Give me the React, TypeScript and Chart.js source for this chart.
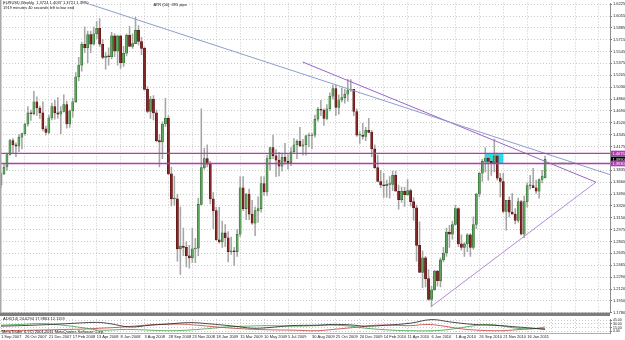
import React, { useEffect, useRef } from "react";
import { Chart, registerables } from "chart.js";

Chart.register(...registerables);

// ---------------- data ----------------
const SYMBOL_TITLE = "EURUSD,Weekly  1.3724 1.4037 1.3721 1.3990";
const TIMER_TEXT = "1919 minutes 40 seconds left to bar end";
const ATR_TEXT = "ATR (50): 395 pips";
const TREND_NOTE = "1.3737.46";
const INDICATOR_TEXT = "ADX(14) 24.6294 17.9863 12.1159";
const COPYRIGHT_TEXT = "MetaTrader 4, (C) 2001-2011 MetaQuotes Software Corp.";

const DATE_LABELS = [
  "1 Sep 2007", "26 Oct 2007", "21 Dec 2007", "17 Feb 2008", "13 Apr 2008", "8 Jun 2008",
  "3 Aug 2008", "28 Sep 2008", "23 Nov 2008", "18 Jan 2009", "15 Mar 2009", "10 May 2009",
  "5 Jul 2009", "30 Aug 2009", "25 Oct 2009", "20 Dec 2009", "14 Feb 2010", "11 Apr 2010",
  "6 Jun 2010", "1 Aug 2010", "26 Sep 2010", "21 Nov 2010", "16 Jan 2011",
];
const BARS_PER_LABEL = 8;

const OPEN = [
  1.3625, 1.3780, 1.3880, 1.4060, 1.4260, 1.4200, 1.4180, 1.4310, 1.4360, 1.4500,
  1.4660, 1.4650, 1.4820, 1.4730, 1.4660, 1.4430, 1.4380, 1.4590, 1.4750, 1.4660,
  1.4640, 1.4680, 1.4780, 1.4500, 1.4690, 1.4820, 1.5180, 1.5350, 1.5650, 1.5600,
  1.5790, 1.5650, 1.5800, 1.5880, 1.5650, 1.5460, 1.5480, 1.5470, 1.5770, 1.5550,
  1.5770, 1.5380, 1.5520, 1.5780, 1.5620, 1.5660, 1.5850, 1.5690, 1.5590, 1.5000,
  1.4680, 1.4860, 1.4660, 1.4260, 1.4240, 1.4500, 1.4580, 1.3780, 1.3420, 1.3420,
  1.2700, 1.2740, 1.2720, 1.2600, 1.2570, 1.2700, 1.2710, 1.3340, 1.3870, 1.4000,
  1.3920, 1.3420, 1.3250, 1.2830, 1.2800, 1.2930, 1.2860, 1.2660, 1.2670, 1.2660,
  1.2910, 1.3580, 1.3280, 1.3490, 1.3200, 1.3070, 1.3250, 1.3280, 1.3640, 1.3520,
  1.4000, 1.4160, 1.4040, 1.3980, 1.3890, 1.4020, 1.3960, 1.3940, 1.4100, 1.4200,
  1.4250, 1.4180, 1.4200, 1.4330, 1.4330, 1.4340, 1.4570, 1.4710, 1.4700, 1.4580,
  1.4720, 1.4900, 1.5010, 1.4740, 1.4850, 1.4880, 1.4930, 1.4990, 1.5000, 1.4680,
  1.4340, 1.4340, 1.4320, 1.4410, 1.4380, 1.4140, 1.3870, 1.3670, 1.3620, 1.3610,
  1.3630, 1.3630, 1.3760, 1.3530, 1.3410, 1.3530, 1.3480, 1.3540, 1.3380, 1.3290,
  1.2750, 1.2360, 1.2570, 1.2270, 1.1970, 1.2110, 1.2380, 1.2240, 1.2540, 1.2640,
  1.2940, 1.2910, 1.3050, 1.3280, 1.2770, 1.2720, 1.2770, 1.2900, 1.2720, 1.3050,
  1.3490, 1.3790, 1.3960, 1.4010, 1.3960, 1.3940, 1.4040, 1.3720, 1.3670, 1.3240,
  1.3400, 1.3230, 1.3200, 1.3110, 1.3380, 1.2910, 1.3380, 1.3610, 1.3610, 1.3580,
  1.3530, 1.3700, 1.3724,
];
const HIGH = [
  1.3800, 1.3920, 1.4080, 1.4280, 1.4290, 1.4230, 1.4350, 1.4370, 1.4510, 1.4750,
  1.4700, 1.4970, 1.4890, 1.4760, 1.4820, 1.4470, 1.4630, 1.4800, 1.4840, 1.4880,
  1.4750, 1.4920, 1.4830, 1.4700, 1.4870, 1.5240, 1.5460, 1.5680, 1.5900, 1.5840,
  1.5840, 1.5900, 1.5980, 1.6020, 1.5720, 1.5530, 1.5600, 1.5820, 1.5800, 1.5780,
  1.5780, 1.5620, 1.5800, 1.5910, 1.5800, 1.6038, 1.5920, 1.5750, 1.5610, 1.5040,
  1.4900, 1.4910, 1.4700, 1.4350, 1.4530, 1.4870, 1.4620, 1.3880, 1.3750, 1.3490,
  1.3300, 1.3000, 1.2800, 1.2750, 1.3000, 1.2850, 1.3430, 1.4719, 1.4150, 1.4200,
  1.3960, 1.3510, 1.3300, 1.3300, 1.3100, 1.3050, 1.2950, 1.2870, 1.2720, 1.2980,
  1.3740, 1.3740, 1.3500, 1.3560, 1.3400, 1.3300, 1.3450, 1.3740, 1.3740, 1.4050,
  1.4160, 1.4340, 1.4130, 1.4090, 1.4080, 1.4220, 1.4060, 1.4160, 1.4290, 1.4270,
  1.4450, 1.4280, 1.4340, 1.4370, 1.4370, 1.4630, 1.4740, 1.4840, 1.4720, 1.4780,
  1.4950, 1.5060, 1.5060, 1.4920, 1.5020, 1.5000, 1.5145, 1.5140, 1.5000, 1.4720,
  1.4390, 1.4510, 1.4450, 1.4580, 1.4410, 1.4200, 1.4050, 1.3830, 1.3790, 1.3690,
  1.3740, 1.3820, 1.3820, 1.3620, 1.3590, 1.3590, 1.3700, 1.3560, 1.3440, 1.3330,
  1.3090, 1.2670, 1.2590, 1.2400, 1.2160, 1.2390, 1.2390, 1.2570, 1.2720, 1.3000,
  1.3040, 1.3100, 1.3330, 1.3290, 1.2900, 1.2790, 1.2920, 1.2920, 1.3160, 1.3500,
  1.3800, 1.3990, 1.4160, 1.4030, 1.4000, 1.4283, 1.4080, 1.3790, 1.3790, 1.3400,
  1.3450, 1.3500, 1.3280, 1.3430, 1.3400, 1.3460, 1.3650, 1.3760, 1.3860, 1.3690,
  1.3710, 1.3830, 1.4037,
];
const LOW = [
  1.3580, 1.3770, 1.3830, 1.4050, 1.4080, 1.4030, 1.4100, 1.4140, 1.4340, 1.4470,
  1.4550, 1.4630, 1.4620, 1.4580, 1.4400, 1.4340, 1.4360, 1.4560, 1.4570, 1.4580,
  1.4360, 1.4670, 1.4440, 1.4450, 1.4600, 1.4810, 1.5120, 1.5260, 1.5530, 1.5380,
  1.5530, 1.5640, 1.5730, 1.5620, 1.5440, 1.5290, 1.5350, 1.5440, 1.5470, 1.5350,
  1.5300, 1.5330, 1.5480, 1.5620, 1.5590, 1.5660, 1.5640, 1.5500, 1.4990, 1.4660,
  1.4580, 1.4560, 1.4240, 1.3880, 1.4000, 1.4460, 1.3770, 1.3320, 1.3330, 1.2520,
  1.2330, 1.2600, 1.2440, 1.2420, 1.2500, 1.2500, 1.2600, 1.3330, 1.3850, 1.3880,
  1.3350, 1.2990, 1.2820, 1.2780, 1.2720, 1.2730, 1.2510, 1.2620, 1.2456, 1.2590,
  1.2880, 1.3250, 1.3120, 1.3120, 1.3050, 1.2890, 1.3080, 1.3230, 1.3470, 1.3470,
  1.3830, 1.4000, 1.3740, 1.3750, 1.3820, 1.3920, 1.3850, 1.3900, 1.4080, 1.4000,
  1.4180, 1.4050, 1.4050, 1.4170, 1.4140, 1.4310, 1.4540, 1.4620, 1.4480, 1.4560,
  1.4690, 1.4860, 1.4620, 1.4640, 1.4820, 1.4800, 1.4830, 1.4970, 1.4620, 1.4320,
  1.4220, 1.4280, 1.4260, 1.4370, 1.4030, 1.3860, 1.3670, 1.3580, 1.3440, 1.3440,
  1.3430, 1.3540, 1.3530, 1.3270, 1.3370, 1.3310, 1.3470, 1.3320, 1.3110, 1.2520,
  1.2360, 1.2140, 1.2150, 1.1960, 1.1876, 1.2100, 1.2160, 1.2150, 1.2510, 1.2590,
  1.2720, 1.2840, 1.3040, 1.2730, 1.2680, 1.2590, 1.2660, 1.2590, 1.2690, 1.2990,
  1.3450, 1.3670, 1.3810, 1.3690, 1.3760, 1.3810, 1.3690, 1.3450, 1.3220, 1.2970,
  1.3160, 1.3200, 1.3060, 1.3080, 1.2900, 1.2860, 1.3300, 1.3560, 1.3580, 1.3500,
  1.3430, 1.3650, 1.3721,
];
const CLOSE = [
  1.3780, 1.3880, 1.4060, 1.4260, 1.4200, 1.4180, 1.4310, 1.4360, 1.4500, 1.4660,
  1.4650, 1.4820, 1.4730, 1.4660, 1.4430, 1.4380, 1.4590, 1.4750, 1.4660, 1.4640,
  1.4680, 1.4780, 1.4500, 1.4690, 1.4820, 1.5180, 1.5350, 1.5650, 1.5600, 1.5790,
  1.5650, 1.5800, 1.5880, 1.5650, 1.5460, 1.5480, 1.5470, 1.5770, 1.5550, 1.5770,
  1.5380, 1.5520, 1.5780, 1.5620, 1.5660, 1.5850, 1.5690, 1.5590, 1.5000, 1.4680,
  1.4860, 1.4660, 1.4260, 1.4240, 1.4500, 1.4580, 1.3780, 1.3420, 1.3420, 1.2700,
  1.2740, 1.2720, 1.2600, 1.2570, 1.2700, 1.2710, 1.3340, 1.3870, 1.4000, 1.3920,
  1.3420, 1.3250, 1.2830, 1.2800, 1.2930, 1.2860, 1.2660, 1.2670, 1.2660, 1.2910,
  1.3580, 1.3280, 1.3490, 1.3200, 1.3070, 1.3250, 1.3280, 1.3640, 1.3520, 1.4000,
  1.4160, 1.4040, 1.3980, 1.3890, 1.4020, 1.3960, 1.3940, 1.4100, 1.4200, 1.4250,
  1.4180, 1.4200, 1.4330, 1.4330, 1.4340, 1.4570, 1.4710, 1.4700, 1.4580, 1.4720,
  1.4900, 1.5010, 1.4740, 1.4850, 1.4880, 1.4930, 1.4990, 1.5000, 1.4680, 1.4340,
  1.4340, 1.4320, 1.4410, 1.4380, 1.4140, 1.3870, 1.3670, 1.3620, 1.3610, 1.3630,
  1.3630, 1.3760, 1.3530, 1.3410, 1.3530, 1.3480, 1.3540, 1.3380, 1.3290, 1.2750,
  1.2360, 1.2570, 1.2270, 1.1970, 1.2110, 1.2380, 1.2240, 1.2540, 1.2640, 1.2940,
  1.2910, 1.3050, 1.3280, 1.2770, 1.2720, 1.2770, 1.2900, 1.2720, 1.3050, 1.3490,
  1.3790, 1.3960, 1.4010, 1.3960, 1.3940, 1.4040, 1.3720, 1.3670, 1.3240, 1.3400,
  1.3230, 1.3200, 1.3110, 1.3380, 1.2910, 1.3380, 1.3610, 1.3610, 1.3580, 1.3530,
  1.3700, 1.3750, 1.3990,
];

const PRICE_TICKS = [
  1.6225, 1.6055, 1.5885, 1.5715, 1.5545, 1.5375, 1.5205, 1.5030, 1.4860, 1.4690,
  1.4520, 1.4345, 1.4175, 1.3835, 1.3660, 1.3490, 1.3320, 1.3150, 1.2975, 1.2805,
  1.2635, 1.2465, 1.2290, 1.2120, 1.1950, 1.1780,
];
const PRICE_MIN = 1.1780;
const PRICE_MAX = 1.6239;

const LEVELS = [1.4075, 1.3930];
const LAST_PRICE = 1.3990;

const BLUE_TREND_BARS = [28, 206];
const BLUE_TREND_PRICES = [1.6251, 1.3737];
const UPPER_TREND_BARS = [100.9, 199];
const UPPER_TREND_PRICES = [1.5394, 1.3661];
const LOWER_TREND_BARS = [143.7, 199];
const LOWER_TREND_PRICES = [1.1861, 1.3661];

const RECT_BARS = [161.9, 168];
const RECT_PRICES = [1.3930, 1.4075];

// indicator panel
const ADX_AT = [0, 11, 22, 32, 36.5, 43, 50, 55.5, 63, 69, 78, 84, 89, 97, 105.5, 111, 117, 122, 129, 137, 144, 150, 158, 167, 172.5, 178, 182];
const ADX_VAL = [21, 24.9, 30.9, 36, 30.9, 18, 24.9, 29.1, 35.1, 30.9, 21, 12.9, 15, 23.1, 24.9, 27.9, 26, 21, 24.9, 33, 47, 38.1, 27.9, 23.1, 18, 12.9, 8.1];
const PDI_AT = [0, 6.5, 14, 22, 28.5, 33, 42, 50, 55.5, 62, 69, 75.5, 82, 89, 98, 105.5, 111, 117, 122, 131, 137, 144.5, 150, 155.5, 162.5, 167, 172.5, 178, 182];
const PDI_VAL = [24.9, 27.9, 30.9, 23.1, 12.9, 5.1, 8.1, 5.1, 3, 5.1, 11.1, 18, 21, 23.1, 21, 23.1, 24.9, 21, 12.9, 5.1, 3, 3, 8.1, 18, 27.9, 23.1, 12.9, 11.1, 18];
const MDI_AT = [0, 11, 22, 28.5, 33, 38.5, 46.5, 52, 60, 65.5, 72, 80, 89, 98, 105.5, 111, 120, 125.5, 131, 137, 142.5, 147, 152.5, 158, 167, 172.5, 178, 182];
const MDI_VAL = [3, 5.1, 8.1, 9.9, 12.9, 15.9, 23.1, 27.9, 29.1, 24.9, 18, 11.1, 6.9, 5.1, 3, 8.1, 18, 24.9, 24.9, 23.1, 27.9, 23.1, 12.9, 6, 3, 6.9, 11.1, 11.1];
const PANEL_TICKS = [45, 30, 15, 0];

// ---------------- styles ----------------
const FONT = '"Liberation Sans", Arial, sans-serif';
const GRID = "#c9c9c9";
const UP_FILL = "#5ea45e";
const UP_EDGE = "#2c6a2c";
const DOWN_FILL = "#822626";
const DOWN_EDGE = "#5a1212";
const WICK = "#a6a6a6";
const MAGENTA = "#b43ab4";
const BLUE_LINE = "#8f9dcb";
const PURPLE_UP = "#9a64c8";
const PURPLE_LOW = "#b48ad6";
const CYAN = "#26dcec";
const X_MIN = -0.33;
const X_MAX = 203.7;
const AXIS_W = 15;

const dateTick = (v: number) => {
  const k = Math.round(v / BARS_PER_LABEL);
  return k * BARS_PER_LABEL === v && k >= 0 && k < DATE_LABELS.length ? DATE_LABELS[k] : "";
};

const xScale = (labels: boolean, h: number) => ({
  type: "linear",
  min: X_MIN,
  max: X_MAX,
  offset: false,
  afterFit: (s: any) => {
    s.height = h;
  },
  ticks: {
    display: labels,
    stepSize: BARS_PER_LABEL,
    includeBounds: false,
    autoSkip: false,
    maxRotation: 0,
    minRotation: 0,
    align: "start",
    padding: 1,
    color: "#222",
    font: { size: 4, family: FONT },
    callback: (v: any) => dateTick(Number(v)),
  },
  grid: { color: GRID, lineWidth: 1, drawTicks: false, offset: false },
  border: { display: false, dash: [1, 2] },
});

const line = (bars: number[], prices: number[], color: string, width: number) => ({
  type: "line",
  order: -2,
  data: bars.map((b, i) => ({ x: b, y: prices[i] })),
  borderColor: color,
  borderWidth: width,
  pointRadius: 0,
  fill: false,
  tension: 0,
});

const priceBox = (ctx: CanvasRenderingContext2D, left: number, yPix: number, bg: string, text: string) => {
  ctx.fillStyle = bg;
  ctx.fillRect(left, yPix - 2.8, 14, 5.6);
  ctx.fillStyle = "#ffffff";
  ctx.font = `4px ${FONT}`;
  ctx.textAlign = "left";
  ctx.textBaseline = "middle";
  ctx.fillText(text, left + 1.5, yPix + 0.2);
};

const mainOverlay = {
  id: "mainOverlay",
  beforeDatasetsDraw(chart: any) {
    const { ctx, scales } = chart;
    const x0 = scales.x.getPixelForValue(RECT_BARS[0]);
    const x1 = scales.x.getPixelForValue(RECT_BARS[1]);
    const y0 = scales.y.getPixelForValue(RECT_PRICES[1]);
    const y1 = scales.y.getPixelForValue(RECT_PRICES[0]);
    ctx.save();
    ctx.fillStyle = CYAN;
    ctx.fillRect(x0, y0, x1 - x0, y1 - y0);
    ctx.restore();
  },
  afterDraw(chart: any) {
    const { ctx, chartArea, scales } = chart;
    ctx.save();
    // window frame pieces
    ctx.fillStyle = "#a9a9a9";
    ctx.fillRect(0, 0, 1.5, chartArea.bottom);
    ctx.fillStyle = "#7d7d7d";
    ctx.fillRect(0, chartArea.bottom, chartArea.right, chart.height - chartArea.bottom);
    // price labels on the axis
    const left = chartArea.right + 1;
    priceBox(ctx, left, scales.y.getPixelForValue(LEVELS[0]), MAGENTA, LEVELS[0].toFixed(4));
    priceBox(ctx, left, scales.y.getPixelForValue(LAST_PRICE), "#000000", LAST_PRICE.toFixed(4));
    priceBox(ctx, left, scales.y.getPixelForValue(LEVELS[1]), MAGENTA, LEVELS[1].toFixed(4));
    // texts
    ctx.fillStyle = "#111";
    ctx.font = `4px ${FONT}`;
    ctx.textAlign = "left";
    ctx.textBaseline = "top";
    ctx.fillText(SYMBOL_TITLE, 3, 1);
    ctx.fillText(TIMER_TEXT, 3, 6);
    ctx.fillText(ATR_TEXT, scales.x.getPixelForValue(51), 3);
    ctx.fillStyle = "#8a8a8a";
    ctx.textBaseline = "middle";
    ctx.fillText(TREND_NOTE, scales.x.getPixelForValue(185), scales.y.getPixelForValue(LEVELS[1]) + 0.5);
    ctx.restore();
  },
};

const panelOverlay = {
  id: "panelOverlay",
  afterDraw(chart: any) {
    const { ctx, chartArea } = chart;
    ctx.save();
    ctx.fillStyle = "#9a9a9a";
    ctx.fillRect(0, chartArea.bottom, chartArea.right, 0.8);
    ctx.fillStyle = "#111";
    ctx.font = `4px ${FONT}`;
    ctx.textAlign = "left";
    ctx.textBaseline = "top";
    ctx.fillText(INDICATOR_TEXT, 3, 1.2);
    ctx.fillText(COPYRIGHT_TEXT, 2, 13.5);
    ctx.restore();
  },
};

export default function App() {
  const mainRef = useRef<HTMLCanvasElement>(null);
  const panelRef = useRef<HTMLCanvasElement>(null);

  useEffect(() => {
    document.body.style.margin = "0";
    Chart.defaults.font.family = FONT;

    const bars = CLOSE.map((_, i) => i);
    const isUp = (i: number) => CLOSE[i] >= OPEN[i];

    const main = new Chart(mainRef.current as HTMLCanvasElement, {
      type: "bar",
      data: {
        datasets: [
          line([X_MIN, X_MAX], [LEVELS[0], LEVELS[0]], MAGENTA, 1.3),
          line([X_MIN, X_MAX], [LEVELS[1], LEVELS[1]], MAGENTA, 1.3),
          line(BLUE_TREND_BARS, BLUE_TREND_PRICES, BLUE_LINE, 1),
          line(UPPER_TREND_BARS, UPPER_TREND_PRICES, PURPLE_UP, 1),
          line(LOWER_TREND_BARS, LOWER_TREND_PRICES, PURPLE_LOW, 1),
          {
            type: "bar",
            order: 0,
            grouped: false,
            data: bars.map((i) => ({ x: i, y: [OPEN[i], CLOSE[i]] })),
            backgroundColor: (c: any) => (isUp(c.dataIndex) ? UP_FILL : DOWN_FILL),
            borderColor: (c: any) => (isUp(c.dataIndex) ? UP_EDGE : DOWN_EDGE),
            borderWidth: 0.6,
            borderSkipped: false,
            barThickness: 2.2,
            minBarLength: 0.8,
          },
          {
            type: "bar",
            order: 1,
            grouped: false,
            data: bars.map((i) => ({ x: i, y: [LOW[i], HIGH[i]] })),
            backgroundColor: WICK,
            borderWidth: 0,
            barThickness: 0.9,
          },
        ] as any,
      },
      options: {
        animation: false,
        responsive: false,
        events: [],
        layout: { padding: 0 },
        plugins: { legend: { display: false }, tooltip: { enabled: false } },
        scales: {
          x: xScale(false, 3) as any,
          y: {
            type: "linear",
            position: "right",
            min: PRICE_MIN,
            max: PRICE_MAX,
            beginAtZero: false,
            afterFit: (s: any) => {
              s.width = AXIS_W;
            },
            afterBuildTicks: (s: any) => {
              s.ticks = PRICE_TICKS.map((v) => ({ value: v }));
            },
            ticks: {
              autoSkip: false,
              padding: 1,
              color: "#222",
              font: { size: 4, family: FONT },
              callback: (v: any) => Number(v).toFixed(4),
            },
            grid: { color: GRID, drawTicks: true, tickLength: 2, tickColor: "#777" },
            border: { display: true, color: "#8c8c8c", width: 1, dash: [1, 2] },
          } as any,
        },
      },
      plugins: [mainOverlay],
    });

    const panel = new Chart(panelRef.current as HTMLCanvasElement, {
      type: "line",
      data: {
        datasets: [
          { data: ADX_AT.map((b, i) => ({ x: b, y: ADX_VAL[i] })), borderColor: "#1e1e1e" },
          { data: PDI_AT.map((b, i) => ({ x: b, y: PDI_VAL[i] })), borderColor: "#3f9b3f" },
          { data: MDI_AT.map((b, i) => ({ x: b, y: MDI_VAL[i] })), borderColor: "#c23a3a" },
        ].map((d) => ({ ...d, borderWidth: 0.8, pointRadius: 0, tension: 0.4, fill: false })) as any,
      },
      options: {
        animation: false,
        responsive: false,
        events: [],
        layout: { padding: 0 },
        plugins: { legend: { display: false }, tooltip: { enabled: false } },
        scales: {
          x: xScale(true, 7) as any,
          y: {
            type: "linear",
            position: "right",
            min: -6,
            max: 49,
            afterFit: (s: any) => {
              s.width = AXIS_W;
            },
            afterBuildTicks: (s: any) => {
              s.ticks = PANEL_TICKS.map((v) => ({ value: v }));
            },
            ticks: {
              autoSkip: false,
              padding: 1,
              color: "#222",
              font: { size: 3.5, family: FONT },
              callback: (v: any) => Number(v).toFixed(2),
            },
            grid: { color: GRID, drawTicks: true, tickLength: 2, tickColor: "#777" },
            border: { display: true, color: "#8c8c8c", width: 1, dash: [1, 2] },
          } as any,
        },
      },
      plugins: [panelOverlay],
    });

    return () => {
      main.destroy();
      panel.destroy();
    };
  }, []);

  return (
    <div style={{ position: "relative", width: 625, height: 340, background: "#ffffff", overflow: "hidden" }}>
      <canvas ref={mainRef} width={625} height={316} style={{ position: "absolute", left: 0, top: 0, display: "block" }} />
      <canvas ref={panelRef} width={625} height={24} style={{ position: "absolute", left: 0, top: 316, display: "block" }} />
    </div>
  );
}
